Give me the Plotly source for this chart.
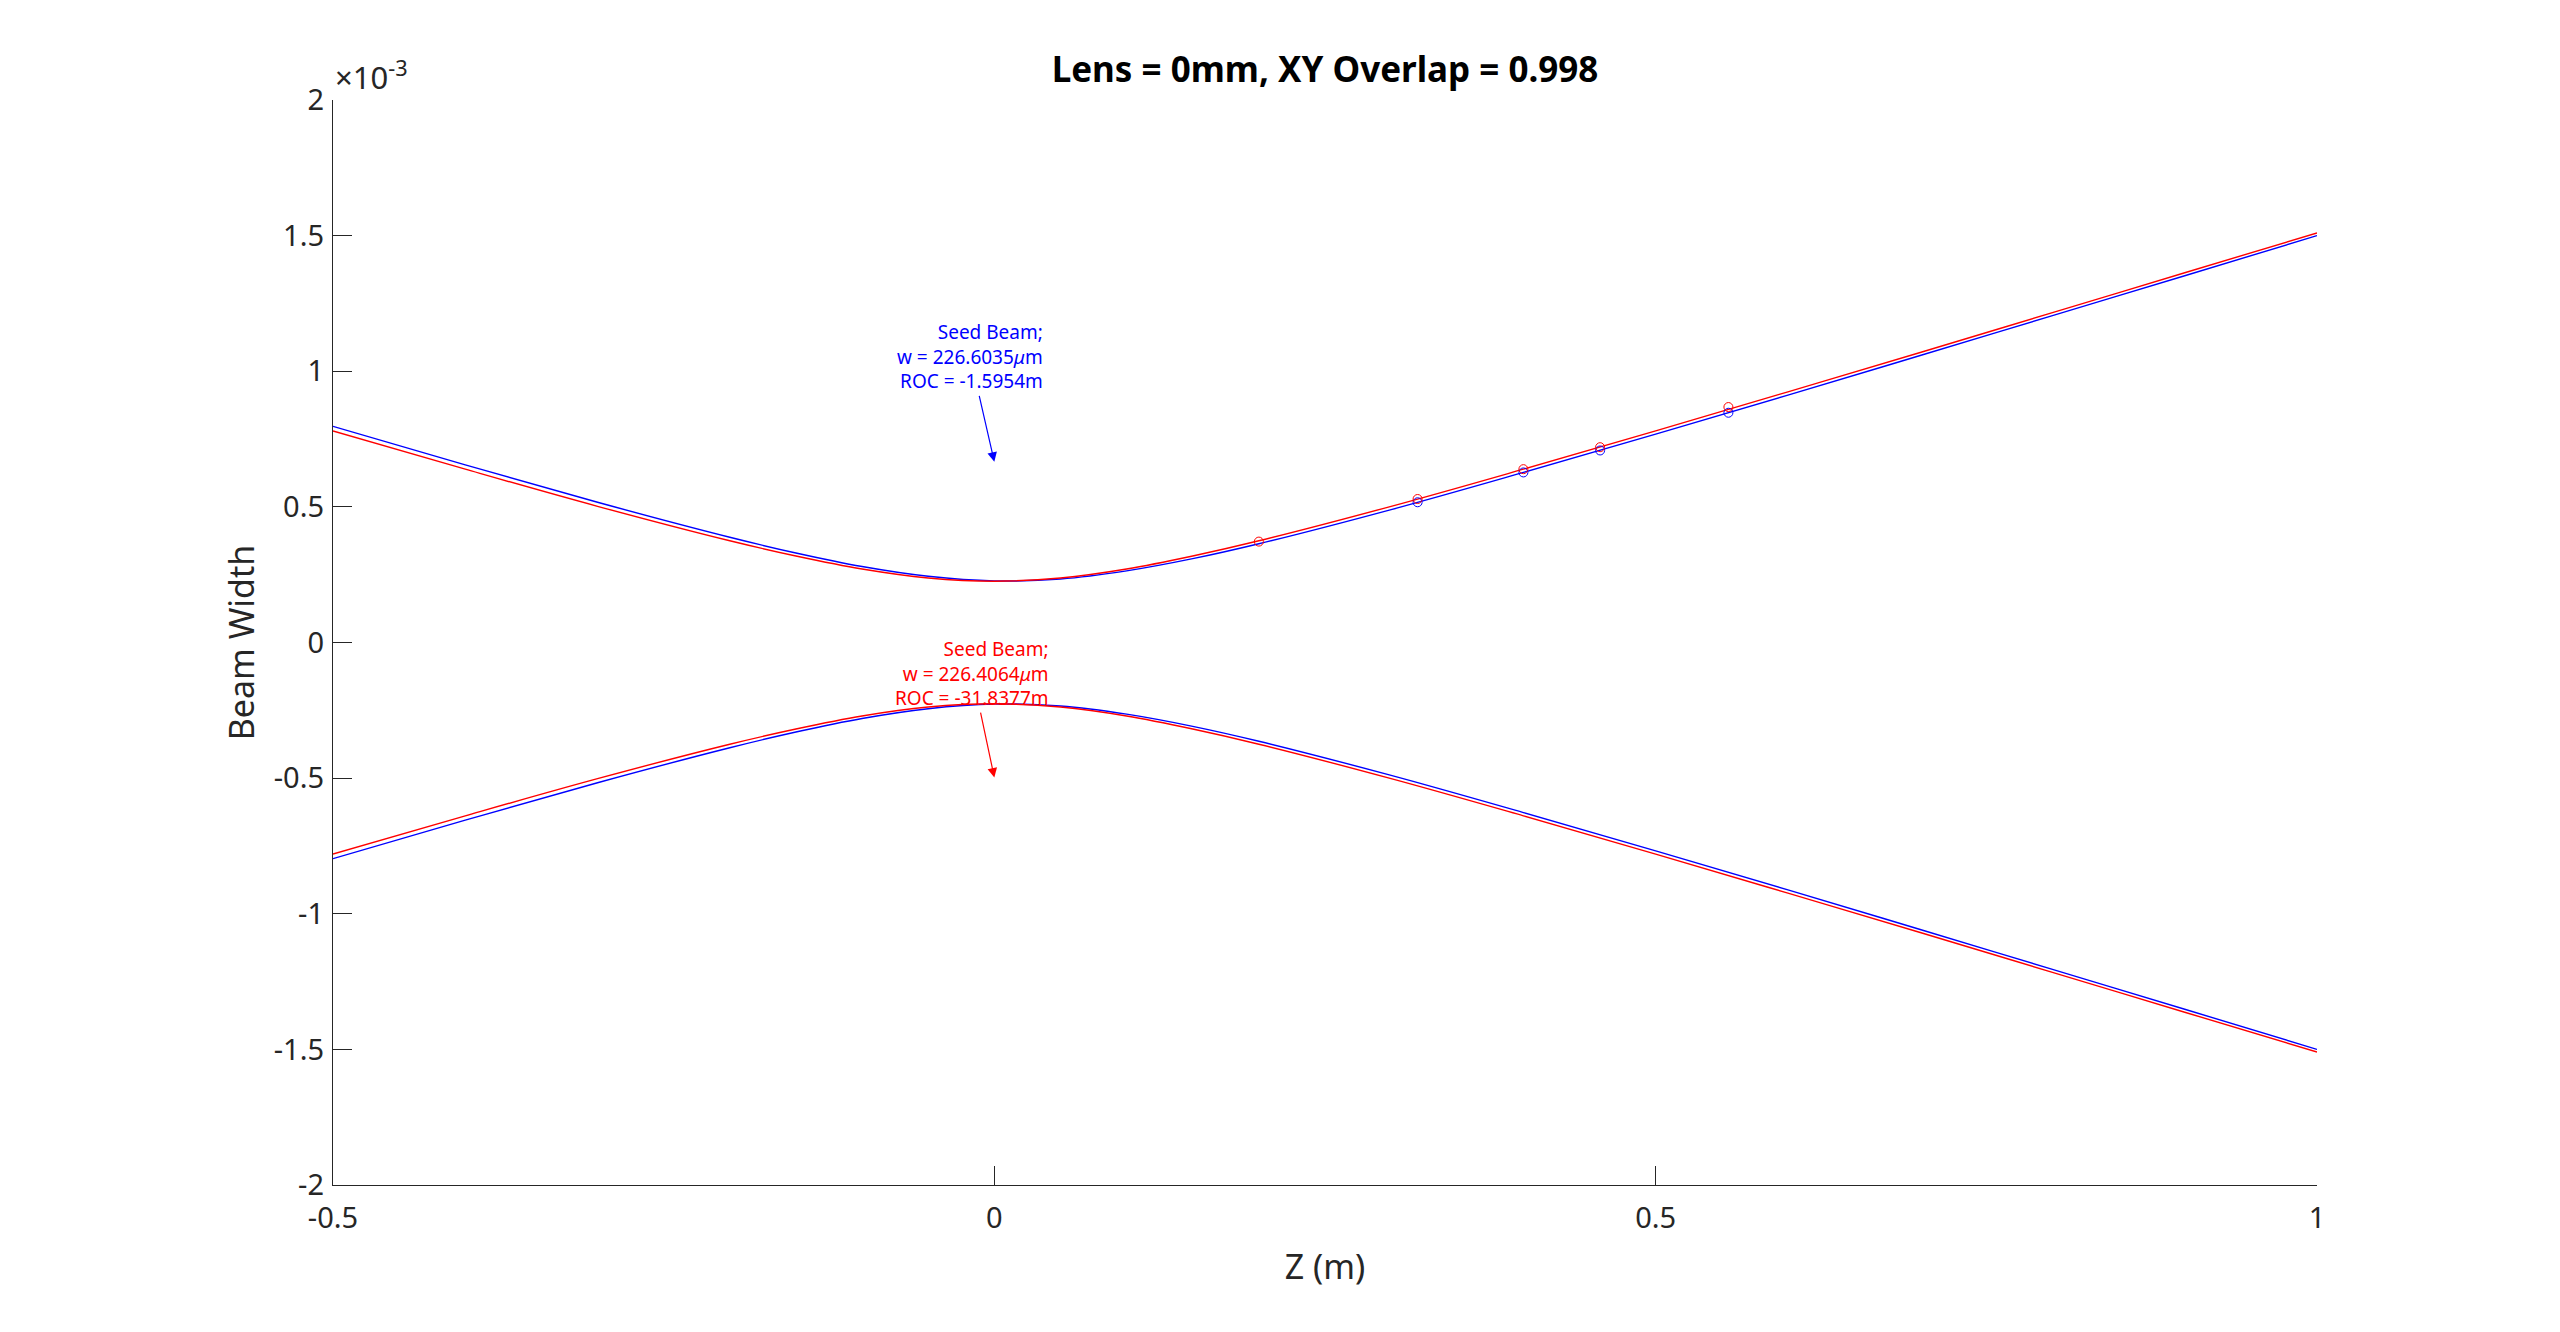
import plotly.graph_objects as go

# beam width (x10^-3)
z = [-0.5, -0.4, -0.3, -0.2, -0.15, -0.1, -0.05, 0, 0.05, 0.1, 0.15, 0.2,
     0.3, 0.4, 0.5, 0.6, 0.7, 0.8, 0.9, 1.0]
w_blue = [0.797, 0.655, 0.517, 0.388, 0.330, 0.280, 0.244, 0.227, 0.234, 0.264,
          0.309, 0.364, 0.490, 0.627, 0.768, 0.912, 1.058, 1.205, 1.352, 1.500]
w_red = [0.780, 0.639, 0.502, 0.375, 0.319, 0.271, 0.238, 0.226, 0.238, 0.271,
         0.319, 0.375, 0.502, 0.639, 0.780, 0.924, 1.069, 1.216, 1.363, 1.510]

# measured points
z_meas_blue = [0.32, 0.4, 0.458, 0.555]
w_meas_blue = [0.517, 0.627, 0.708, 0.847]
z_meas_red = [0.2, 0.32, 0.4, 0.458, 0.555]
w_meas_red = [0.372, 0.529, 0.639, 0.720, 0.868]

y_ticks = [-2, -1.5, -1, -0.5, 0, 0.5, 1, 1.5, 2]
y_labels = ['-2', '-1.5', '-1', '-0.5', '0', '0.5', '1', '1.5', '2']
x_ticks = [-0.5, 0, 0.5, 1]
x_labels = ['-0.5', '0', '0.5', '1']

title = 'Lens = 0mm, XY Overlap = 0.998'
blue_note = 'Seed Beam;<br>w = 226.6035<i>μ</i>m<br>ROC = -1.5954m'
red_note = 'Seed Beam;<br>w = 226.4064<i>μ</i>m<br>ROC = -31.8377m'

BLUE = '#0000ff'
RED = '#ff0000'
AX = '#262626'
FONT = 'Noto Sans'

fig = go.Figure()
for w, col in [(w_blue, BLUE), (w_red, RED)]:
    fig.add_trace(go.Scatter(x=z, y=w, mode='lines', line=dict(color=col, width=1.4, shape='spline')))
    fig.add_trace(go.Scatter(x=z, y=[-v for v in w], mode='lines',
                             line=dict(color=col, width=1.4, shape='spline')))

fig.add_trace(go.Scatter(x=z_meas_blue, y=w_meas_blue, mode='markers',
                         marker=dict(symbol='circle-open', size=9, color=BLUE, line=dict(width=1))))
fig.add_trace(go.Scatter(x=z_meas_red, y=w_meas_red, mode='markers',
                         marker=dict(symbol='circle-open', size=9, color=RED, line=dict(width=1))))

# text arrows: head at the data point, text box centred at the tail
annotations = [
    dict(text=blue_note, x=0.0, y=0.666, xref='x', yref='y', ax=-24, ay=-105,
         align='right', showarrow=True, arrowhead=2, arrowsize=1.6, arrowwidth=1.2,
         arrowcolor=BLUE, standoff=0, font=dict(family=FONT, size=19, color=BLUE)),
    dict(text=red_note, x=0.0, y=-0.498, xref='x', yref='y', ax=-22, ay=-104,
         align='right', showarrow=True, arrowhead=2, arrowsize=1.6, arrowwidth=1.2,
         arrowcolor=RED, standoff=0, font=dict(family=FONT, size=19, color=RED)),
    dict(text='×10<sup>-3</sup>', x=0, y=1, xref='paper', yref='paper', xanchor='left',
         yanchor='bottom', showarrow=False, yshift=0, font=dict(family=FONT, size=31, color=AX)),
]

fig.update_layout(
    width=2560, height=1332,
    margin=dict(l=333, r=243, t=100, b=147),
    paper_bgcolor='white', plot_bgcolor='white',
    showlegend=False,
    font=dict(family=FONT, size=29, color=AX),
    title=dict(text='<b>' + title + '</b>', x=0.5, xref='paper', xanchor='center',
               y=1 - 70 / 1332, yanchor='middle', font=dict(family=FONT, size=35, color='black')),
    annotations=annotations,
)
fig.update_xaxes(range=[-0.5, 1], tickvals=x_ticks, ticktext=x_labels,
                 showline=True, linecolor=AX, linewidth=1.3, ticks='inside', ticklen=19,
                 tickcolor=AX, tickwidth=1.3, showgrid=False, zeroline=False,
                 ticklabelstandoff=7,
                 title=dict(text='Z (m)', standoff=20, font=dict(family=FONT, size=34, color=AX)))
fig.update_yaxes(range=[-2, 2], tickvals=y_ticks, ticktext=y_labels,
                 showline=True, linecolor=AX, linewidth=1.3, ticks='inside', ticklen=19,
                 tickcolor=AX, tickwidth=1.3, showgrid=False, zeroline=False,
                 ticklabelstandoff=2,
                 title=dict(text='Beam Width', standoff=8, font=dict(family=FONT, size=34, color=AX)))

# drop the default body margin so the figure sits at the window origin
fig.write_html('out.html', config={'displayModeBar': False},
               post_script="document.body.style.margin='0';")
